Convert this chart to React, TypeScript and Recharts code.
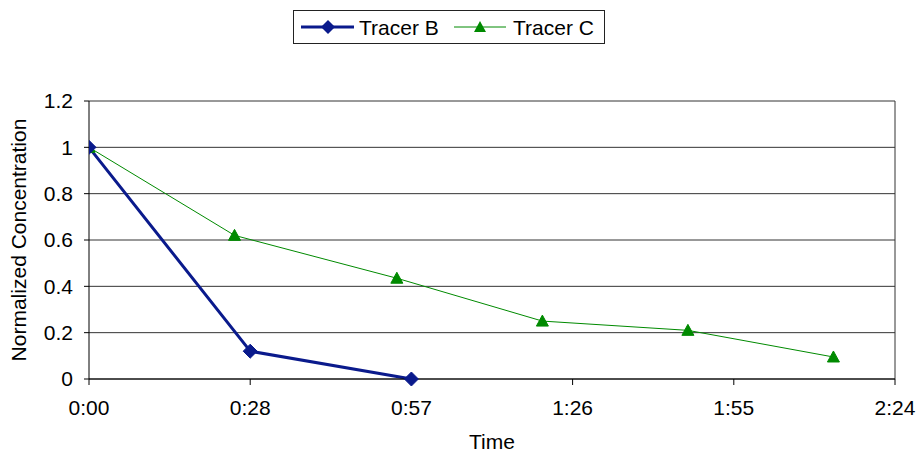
import React from 'react';
import { LineChart, Line, XAxis, YAxis, CartesianGrid, ReferenceLine } from 'recharts';

const tracerBTimes = [0, 28.8, 57.6];
const tracerBValues = [1, 0.12, 0];
const tracerCTimes = [0, 26, 55, 81, 107, 133];
const tracerCValues = [1, 0.62, 0.435, 0.25, 0.21, 0.095];
const xTicks = [0, 28.8, 57.6, 86.4, 115.2, 144];
const yTicks = [0, 0.2, 0.4, 0.6, 0.8, 1, 1.2];
const seriesNames = ['Tracer B', 'Tracer C'];

const bData = tracerBTimes.map((t, i) => ({ t, v: tracerBValues[i] }));
const cData = tracerCTimes.map((t, i) => ({ t, v: tracerCValues[i] }));

const BLUE = '#0a1a8c';
const GREEN = '#008a00';
const FONT = '"Liberation Sans", Arial, sans-serif';

const fmtTime = (v: number) => {
  const m = Math.floor(v + 1e-6);
  const h = Math.floor(m / 60);
  const mm = m % 60;
  return `${h}:${mm < 10 ? '0' + mm : mm}`;
};

const Diamond = (props: any) => {
  const { cx, cy } = props;
  if (cx == null || cy == null) return null;
  const r = 7;
  return <polygon points={`${cx},${cy - r} ${cx + r},${cy} ${cx},${cy + r} ${cx - r},${cy}`} fill={BLUE} stroke={BLUE} />;
};

const Triangle = (props: any) => {
  const { cx, cy } = props;
  if (cx == null || cy == null) return null;
  return <polygon points={`${cx},${cy - 6} ${cx + 6},${cy + 5} ${cx - 6},${cy + 5}`} fill={GREEN} stroke={GREEN} />;
};

const LegendBox = () => (
  <div style={{ position: 'absolute', left: 293, top: 10, width: 312, height: 34, boxSizing: 'border-box', border: '1px solid #222', background: '#fff' }}>
    <svg width={310} height={32} style={{ position: 'absolute', left: 0, top: 0 }}>
      <line x1={7} y1={16} x2={60} y2={16} stroke={BLUE} strokeWidth={3} />
      <polygon points={`34,9 41,16 34,23 27,16`} fill={BLUE} />
      <text x={65} y={24} fontSize={21} fontFamily={FONT} fill="#000">{seriesNames[0]}</text>
      <line x1={160} y1={16} x2={212} y2={16} stroke={GREEN} strokeWidth={1} />
      <polygon points={`186,10 192,21 180,21`} fill={GREEN} />
      <text x={219} y={24} fontSize={21} fontFamily={FONT} fill="#000">{seriesNames[1]}</text>
    </svg>
  </div>
);

export default function App() {
  return (
    <div style={{ position: 'absolute', left: 0, top: 0, width: 919, height: 454, background: '#fff', fontFamily: FONT }}>
      <LineChart width={919} height={454} margin={{ top: 101, right: 24, bottom: 0, left: 0 }}>
        <CartesianGrid horizontal vertical={false} stroke="#333" strokeWidth={1} />
        <XAxis
          type="number"
          dataKey="t"
          domain={[0, 144]}
          ticks={xTicks}
          tickFormatter={fmtTime}
          height={75}
          tickSize={6}
          tickMargin={15}
          stroke="#000"
          tick={{ fill: '#000', fontSize: 21, fontFamily: FONT }}
          label={{ value: 'Time', position: 'insideBottom', offset: 5, fill: '#000', fontSize: 21, fontFamily: FONT }}
          allowDataOverflow
        />
        <YAxis
          type="number"
          domain={[0, 1.2]}
          ticks={yTicks}
          width={89}
          tickSize={5}
          tickMargin={11}
          stroke="#000"
          tick={{ fill: '#000', fontSize: 21, fontFamily: FONT }}
          label={{ value: 'Normalized Concentration', angle: -90, position: 'center', dx: -26, fill: '#000', fontSize: 21, fontFamily: FONT }}
        />
        <ReferenceLine x={144} stroke="#333" strokeWidth={1} />
        <Line data={cData} dataKey="v" stroke={GREEN} strokeWidth={1} dot={<Triangle />} isAnimationActive={false} />
        <Line data={bData} dataKey="v" stroke={BLUE} strokeWidth={3} dot={<Diamond />} isAnimationActive={false} />
      </LineChart>
      <LegendBox />
    </div>
  );
}
